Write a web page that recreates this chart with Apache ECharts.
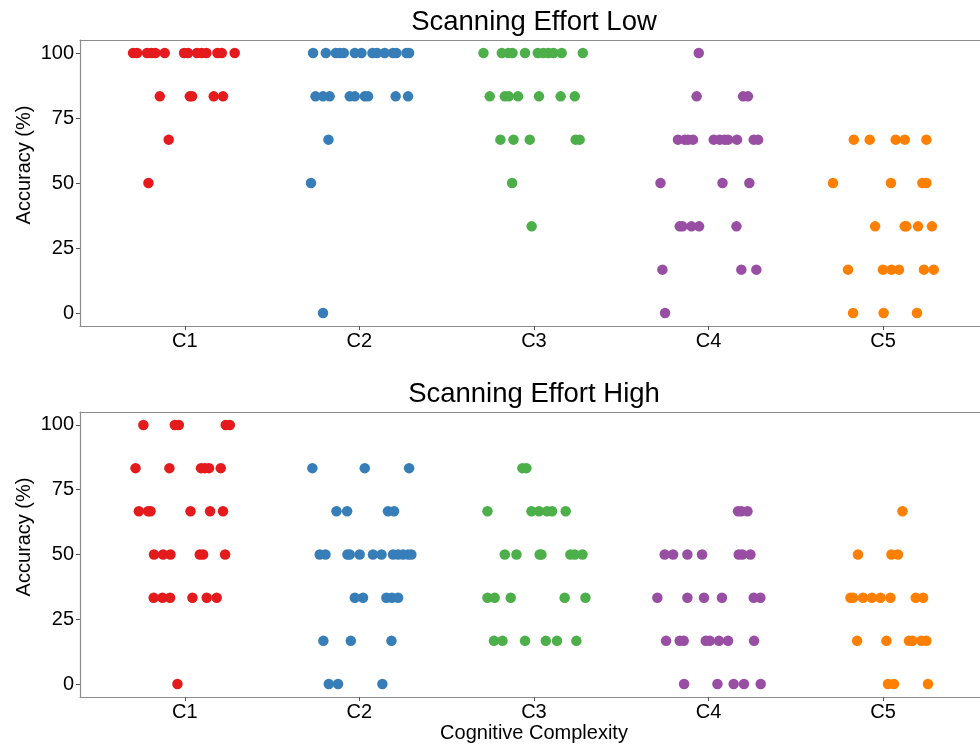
<!DOCTYPE html>
<html>
<head>
<meta charset="utf-8">
<script src="https://cdn.jsdelivr.net/npm/echarts@6/dist/echarts.min.js"></script>
<style>html,body{margin:0;padding:0;background:#fff}#c{width:980px;height:746px}</style>
</head>
<body>
<div id="c"></div>
<script>
// ---- data ----
const categories = ['C1', 'C2', 'C3', 'C4', 'C5'];
const yTickValues = [0, 25, 50, 75, 100];
const panelTitles = ['Scanning Effort Low', 'Scanning Effort High'];
const xTitle = 'Cognitive Complexity';
const yTitle = 'Accuracy (%)';
const colors = ['#E41A1C', '#377EB8', '#4DAF4A', '#984EA3', '#FF7F00'];

// each point: [jitter offset from category, accuracy %]
const lowC1 = [[-0.296,100],[-0.273,100],[-0.216,100],[-0.191,100],[-0.168,100],[-0.115,100],[-0.004,100],[0.019,100],[0.070,100],[0.097,100],[0.124,100],[0.187,100],[0.212,100],[0.286,100],
  [-0.143,83.33],[0.029,83.33],[0.042,83.33],[0.166,83.33],[0.219,83.33],[-0.092,66.67],[-0.208,50]];
const lowC2 = [[-0.265,100],[-0.192,100],[-0.135,100],[-0.112,100],[-0.089,100],[-0.026,100],[0.012,100],[0.075,100],[0.101,100],[0.145,100],[0.193,100],[0.212,100],[0.270,100],[0.285,100],
  [-0.251,83.33],[-0.208,83.33],[-0.170,83.33],[-0.055,83.33],[-0.026,83.33],[0.031,83.33],[0.050,83.33],[0.208,83.33],[0.279,83.33],
  [-0.177,66.67],[-0.277,50],[-0.208,0]];
const lowC3 = [[-0.289,100],[-0.184,100],[-0.146,100],[-0.123,100],[-0.051,100],[0.022,100],[0.054,100],[0.083,100],[0.112,100],[0.159,100],[0.280,100],
  [-0.253,83.33],[-0.167,83.33],[-0.144,83.33],[-0.091,83.33],[0.029,83.33],[0.153,83.33],[0.234,83.33],
  [-0.192,66.67],[-0.117,66.67],[-0.024,66.67],[0.239,66.67],[0.262,66.67],[-0.125,50],[-0.013,33.33]];
const lowC4 = [[-0.056,100],[-0.068,83.33],[0.198,83.33],[0.226,83.33],
  [-0.175,66.67],[-0.136,66.67],[-0.117,66.67],[-0.089,66.67],[0.030,66.67],[0.064,66.67],[0.093,66.67],[0.112,66.67],[0.163,66.67],[0.259,66.67],[0.284,66.67],
  [-0.275,50],[0.080,50],[0.234,50],
  [-0.165,33.33],[-0.149,33.33],[-0.098,33.33],[-0.054,33.33],[0.160,33.33],
  [-0.264,16.67],[0.188,16.67],[0.274,16.67],[-0.249,0]];
const lowC5 = [[-0.168,66.67],[-0.077,66.67],[0.072,66.67],[0.124,66.67],[0.248,66.67],
  [-0.287,50],[0.045,50],[0.225,50],[0.248,50],
  [-0.046,33.33],[0.124,33.33],[0.133,33.33],[0.200,33.33],[0.280,33.33],
  [-0.201,16.67],[-0.001,16.67],[0.048,16.67],[0.091,16.67],[0.234,16.67],[0.290,16.67],
  [-0.172,0],[0.003,0],[0.194,0]];

const highC1 = [[-0.237,100],[-0.057,100],[-0.034,100],[0.235,100],[0.258,100],
  [-0.282,83.33],[-0.088,83.33],[0.093,83.33],[0.115,83.33],[0.139,83.33],[0.206,83.33],
  [-0.263,66.67],[-0.210,66.67],[-0.196,66.67],[0.033,66.67],[0.145,66.67],[0.219,66.67],
  [-0.176,50],[-0.124,50],[-0.082,50],[0.086,50],[0.105,50],[0.231,50],
  [-0.178,33.33],[-0.128,33.33],[-0.084,33.33],[0.044,33.33],[0.126,33.33],[0.183,33.33],
  [-0.042,0]];
const highC2 = [[-0.269,83.33],[0.031,83.33],[0.285,83.33],
  [-0.131,66.67],[-0.070,66.67],[0.164,66.67],[0.199,66.67],
  [-0.227,50],[-0.194,50],[-0.068,50],[-0.055,50],[0.002,50],[0.078,50],[0.127,50],[0.193,50],[0.222,50],[0.250,50],[0.279,50],[0.298,50],
  [-0.026,33.33],[0.021,33.33],[0.155,33.33],[0.187,33.33],[0.222,33.33],
  [-0.206,16.67],[-0.049,16.67],[0.184,16.67],
  [-0.175,0],[-0.122,0],[0.132,0]];
const highC3 = [[-0.066,83.33],[-0.043,83.33],
  [-0.266,66.67],[-0.014,66.67],[0.029,66.67],[0.075,66.67],[0.104,66.67],[0.182,66.67],
  [-0.167,50],[-0.100,50],[0.033,50],[0.043,50],[0.209,50],[0.234,50],[0.278,50],
  [-0.266,33.33],[-0.225,33.33],[-0.133,33.33],[0.176,33.33],[0.295,33.33],
  [-0.229,16.67],[-0.180,16.67],[-0.051,16.67],[0.068,16.67],[0.132,16.67],[0.243,16.67]];
const highC4 = [[0.169,66.67],[0.188,66.67],[0.223,66.67],
  [-0.251,50],[-0.203,50],[-0.121,50],[-0.037,50],[0.173,50],[0.194,50],[0.240,50],
  [-0.293,33.33],[-0.121,33.33],[-0.026,33.33],[0.077,33.33],[0.259,33.33],[0.297,33.33],
  [-0.243,16.67],[-0.165,16.67],[-0.142,16.67],[-0.016,16.67],[0.007,16.67],[0.060,16.67],[0.112,16.67],[0.261,16.67],
  [-0.140,0],[0.051,0],[0.144,0],[0.203,0],[0.299,0]];
const highC5 = [[0.111,66.67],
  [-0.144,50],[0.048,50],[0.085,50],
  [-0.187,33.33],[-0.172,33.33],[-0.115,33.33],[-0.064,33.33],[-0.015,33.33],[0.042,33.33],[0.187,33.33],[0.229,33.33],
  [-0.149,16.67],[0.019,16.67],[0.148,16.67],[0.168,16.67],[0.219,16.67],[0.248,16.67],
  [0.028,0],[0.062,0],[0.257,0]];

const panels = [[lowC1, lowC2, lowC3, lowC4, lowC5], [highC1, highC2, highC3, highC4, highC5]];

// ---- chart ----
const FONT = 'Liberation Sans, Arial, Helvetica, sans-serif';
const chart = echarts.init(document.getElementById('c'), null, {renderer: 'canvas'});

const X_MIN = 0.4, X_MAX = 5.555;   // panel is cropped on the right edge of the figure
const FRAME = '#8c8c8c';
const grids = [
  {left: 80, top: 40, right: 0, height: 286},
  {left: 80, top: 412, right: 0, height: 285}
];

const xAxes = [];
grids.forEach((g, i) => {
  xAxes.push({
    type: 'value', gridIndex: i, min: X_MIN, max: X_MAX, position: 'bottom',
    axisLine: {show: true, onZero: false, lineStyle: {color: FRAME, width: 1.2}},
    splitLine: {show: false},
    axisTick: {show: true, length: 4, lineStyle: {color: '#555'}, customValues: categories.map((c, k) => k + 1)},
    axisLabel: {show: true, color: '#000', fontSize: 20, fontFamily: FONT, margin: 5,
      customValues: categories.map((c, k) => k + 1),
      formatter: v => categories[Math.round(v) - 1] || ''}
  });
  xAxes.push({
    type: 'value', gridIndex: i, min: X_MIN, max: X_MAX, position: 'top',
    axisLine: {show: true, onZero: false, lineStyle: {color: FRAME, width: 1.2}},
    splitLine: {show: false}, axisTick: {show: false}, axisLabel: {show: false}
  });
});
const yAxes = grids.map((g, i) => ({
  type: 'value', gridIndex: i, min: -5, max: 105, position: 'left',
  axisLine: {show: true, onZero: false, lineStyle: {color: FRAME, width: 1.2}},
  splitLine: {show: false},
  axisTick: {show: true, length: 4, lineStyle: {color: '#555'}, customValues: yTickValues},
  axisLabel: {show: true, color: '#000', fontSize: 20, fontFamily: FONT, margin: 6, customValues: yTickValues}
}));

const series = [];
panels.forEach((cats, p) => {
  cats.forEach((pts, k) => {
    series.push({
      type: 'scatter', xAxisIndex: p * 2, yAxisIndex: p,
      symbol: 'circle', symbolSize: 10.5,
      itemStyle: {color: colors[k], opacity: 1},
      data: pts.map(([j, a]) => [k + 1 + j, a]),
      silent: true, animation: false
    });
  });
});

const graphics = [];
panelTitles.forEach((t, p) => {
  graphics.push({type: 'text', x: 534, y: p === 0 ? 22 : 394,
    style: {text: t, font: '27.5px ' + FONT, fill: '#000', textAlign: 'center', textVerticalAlign: 'middle'}});
  graphics.push({type: 'text', x: 24, y: p === 0 ? 165 : 537, rotation: Math.PI / 2,
    style: {text: yTitle, font: '20px ' + FONT, fill: '#000', textAlign: 'center', textVerticalAlign: 'middle'}});
});
graphics.push({type: 'text', x: 534, y: 733,
  style: {text: xTitle, font: '20px ' + FONT, fill: '#000', textAlign: 'center', textVerticalAlign: 'middle'}});

chart.setOption({
  backgroundColor: '#fff',
  animation: false,
  grid: grids,
  xAxis: xAxes,
  yAxis: yAxes,
  series: series,
  graphic: graphics
});
</script>
</body>
</html>
